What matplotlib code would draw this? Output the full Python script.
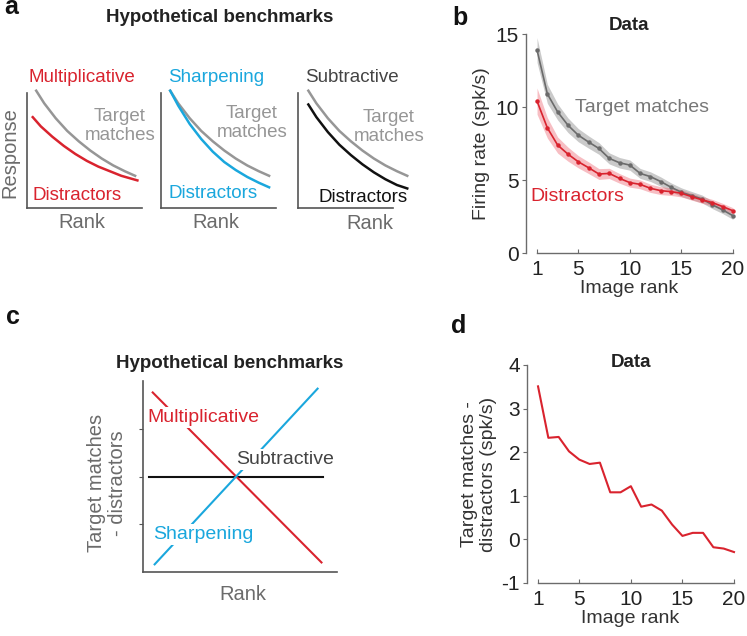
import matplotlib
matplotlib.use("Agg")
import matplotlib.pyplot as plt

plt.rcParams['font.family'] = ['Liberation Sans', 'DejaVu Sans']
plt.rcParams['font.size'] = 13.5
plt.rcParams['axes.unicode_minus'] = False

RED = '#d9232e'
BLUE = '#1aa7dd'
GRAY = '#969696'
DGRAY = '#6b6b6b'
AXC = '#555555'

# --- panel a: schematic curves (axis units 0..10)
sch_x = [0.8, 1.5, 2.5, 3.5, 4.5, 5.5, 6.5, 7.5, 8.5, 9.4]
sch_target = [10.2, 9.1, 7.8, 6.7, 5.8, 5.0, 4.3, 3.7, 3.2, 2.8]
sch_mult = [7.9, 7.1, 6.2, 5.4, 4.7, 4.1, 3.6, 3.2, 2.8, 2.4]
sch_sharp = [10.2, 8.9, 7.3, 6.0, 4.9, 4.0, 3.3, 2.7, 2.2, 1.8]
sch_subtr = [9.0, 7.9, 6.6, 5.5, 4.6, 3.8, 3.1, 2.5, 2.0, 1.7]

# --- panel b: firing rates by image rank
ranks = list(range(1, 21))
target_rate = [13.9, 10.9, 9.66, 8.75, 8.07, 7.6, 7.16, 6.48, 6.18, 6.02,
               5.45, 5.23, 4.89, 4.5, 4.16, 3.93, 3.7, 3.3, 2.95, 2.55]
target_sem = [0.85, 0.65, 0.55, 0.5, 0.45, 0.42, 0.4, 0.38, 0.36, 0.35,
              0.34, 0.33, 0.32, 0.3, 0.3, 0.28, 0.27, 0.26, 0.25, 0.25]
distr_rate = [10.4, 8.57, 7.39, 6.77, 6.25, 5.84, 5.41, 5.45, 5.11, 4.82,
              4.7, 4.43, 4.27, 4.2, 4.09, 3.86, 3.64, 3.45, 3.18, 2.89]
distr_sem = [0.9, 0.7, 0.55, 0.48, 0.42, 0.4, 0.37, 0.35, 0.33, 0.31,
             0.3, 0.28, 0.27, 0.26, 0.25, 0.24, 0.23, 0.22, 0.22, 0.21]

# --- panel c: schematic difference lines (x, y endpoints in axis units)
mult_line_x, mult_line_y = [0.5, 9.2], [9.4, 0.5]
sharp_line_x, sharp_line_y = [0.6, 9.0], [0.4, 9.6]
subtr_line_x, subtr_line_y = [0.3, 9.3], [5.0, 5.0]

# --- panel d: difference data
diff_rate = [3.51, 2.33, 2.35, 2.02, 1.83, 1.73, 1.76, 1.08, 1.08, 1.22,
             0.75, 0.8, 0.66, 0.34, 0.08, 0.15, 0.15, -0.18, -0.21, -0.29]

W, H = 747, 636
fig = plt.figure(figsize=(W / 100, H / 100), dpi=100)


def px_axes(left, top, right, bottom):
    return fig.add_axes([left / W, 1 - bottom / H, (right - left) / W, (bottom - top) / H])


def ftext(x, y, s, **kw):
    fig.text(x / W, 1 - y / H, s, **kw)


def schematic(ax, spine_right=10):
    ax.set_xlim(0, 10)
    ax.set_ylim(0, 10)
    ax.set_xticks([])
    ax.set_yticks([])
    for s in ['top', 'right']:
        ax.spines[s].set_visible(False)
    for s in ['left', 'bottom']:
        ax.spines[s].set_color(AXC)
        ax.spines[s].set_linewidth(1.2)
    ax.spines['bottom'].set_bounds(0, spine_right)
    ax.patch.set_alpha(0)


# panel a
ax1 = px_axes(27, 93, 142, 208)
schematic(ax1)
ax1.plot(sch_x, sch_target, color=GRAY, lw=1.8, clip_on=False)
ax1.plot([x - 0.3 for x in sch_x[:-1]] + [9.6], sch_mult, color=RED, lw=1.8, clip_on=False)

ax2 = px_axes(161, 93, 276, 208)
schematic(ax2)
ax2.plot(sch_x, sch_target, color=GRAY, lw=1.8, clip_on=False)
ax2.plot(sch_x, sch_sharp, color=BLUE, lw=1.8, clip_on=False)

ax3 = px_axes(298, 93, 413, 208)
schematic(ax3, spine_right=8.3)
ax3.plot([x + 0.1 for x in sch_x], sch_target, color=GRAY, lw=1.8, clip_on=False)
ax3.plot([x + 0.1 for x in sch_x], sch_subtr, color='#111111', lw=1.8, clip_on=False)

ftext(220, 17, 'Hypothetical benchmarks', ha='center', va='center', weight='bold', color='#222222')
ftext(28, 77, 'Multiplicative', color=RED, va='center')
ftext(120, 126, 'Target\nmatches', color=GRAY, ha='center', va='center', linespacing=1.12)
ftext(33, 196, 'Distractors', color=RED, va='center')
ftext(10, 153, 'Response', color=DGRAY, rotation=90, ha='center', va='center', fontsize=14.5)
ftext(82, 223, 'Rank', color=DGRAY, ha='center', va='center', fontsize=14.5)
ftext(168, 77, 'Sharpening', color=BLUE, va='center')
ftext(252, 123, 'Target\nmatches', color=GRAY, ha='center', va='center', linespacing=1.12)
ftext(168, 194, 'Distractors', color=BLUE, va='center')
ftext(216, 223, 'Rank', color=DGRAY, ha='center', va='center', fontsize=14.5)
ftext(305, 77, 'Subtractive', color='#444444', va='center')
ftext(389, 127, 'Target\nmatches', color=GRAY, ha='center', va='center', linespacing=1.12)
ftext(318, 198, 'Distractors', color='#111111', va='center')
ftext(370, 224, 'Rank', color=DGRAY, ha='center', va='center', fontsize=14.5)


def data_axes(ax, ylo, yhi, yticks):
    ax.set_xlim(-0.07, 20)
    ax.set_ylim(ylo, yhi)
    for s in ['top', 'right']:
        ax.spines[s].set_visible(False)
    for s in ['left', 'bottom']:
        ax.spines[s].set_color(DGRAY)
        ax.spines[s].set_linewidth(1.0)
    ax.spines['bottom'].set_bounds(1, 20)
    ax.spines['left'].set_bounds(ylo, yhi)
    ax.set_xticks([1, 5, 10, 15, 20])
    ax.set_yticks(yticks)
    ax.tick_params(axis='both', labelsize=15, labelcolor='#222222')
    ax.tick_params(axis='y', direction='out', length=3, color=DGRAY, pad=2)
    ax.tick_params(axis='x', direction='in', length=3, color=DGRAY, pad=5)
    ax.set_xlabel('Image rank', labelpad=1, fontsize=14, color='#333333')
    ax.patch.set_alpha(0)


# panel b
axb = px_axes(526, 34, 733, 253)
data_axes(axb, 0, 15, [0, 5, 10, 15])
lo = [m - s for m, s in zip(target_rate, target_sem)]
hi = [m + s for m, s in zip(target_rate, target_sem)]
axb.fill_between(ranks, lo, hi, color='#8a8a8a', alpha=0.45, lw=0)
lo = [m - s for m, s in zip(distr_rate, distr_sem)]
hi = [m + s for m, s in zip(distr_rate, distr_sem)]
axb.fill_between(ranks, lo, hi, color='#ee6f7b', alpha=0.45, lw=0)
axb.plot(ranks, target_rate, color=DGRAY, lw=1.2, marker='o', ms=2.2, clip_on=False)
axb.plot(ranks, distr_rate, color=RED, lw=1.2, marker='o', ms=2.2, clip_on=False)
axb.set_ylabel('Firing rate (spk/s)', labelpad=4, fontsize=14, color='#333333')
axb.text(0.5, 1.041, 'Data', transform=axb.transAxes, weight='bold',
         ha='center', va='center', color='#222222')
axb.text(11.17, 9.95, 'Target matches', color='#777777', ha='center', va='center', fontsize=14)
axb.text(4.95, 3.84, 'Distractors', color=RED, ha='center', va='center', fontsize=14)

# panel c
axc = px_axes(143, 381, 337, 572)
schematic(axc)
axc.set_yticks([2.5, 5, 7.5])
axc.tick_params(axis='y', direction='out', length=3, color=AXC, labelleft=False)
axc.plot(mult_line_x, mult_line_y, color=RED, lw=1.5)
axc.plot(sharp_line_x, sharp_line_y, color=BLUE, lw=1.5)
axc.plot(subtr_line_x, subtr_line_y, color='#111111', lw=1.5, zorder=1)
bb = dict(facecolor='white', edgecolor='none', pad=1.5)
axc.text(0.2, 8.1, 'Multiplicative', color=RED, va='center', bbox=bb, fontsize=14)
axc.text(4.8, 5.9, 'Subtractive', color='#444444', va='center', bbox=bb, fontsize=14)
axc.text(0.5, 1.95, 'Sharpening', color=BLUE, va='center', bbox=bb, fontsize=14)
ftext(230, 363, 'Hypothetical benchmarks', ha='center', va='center', weight='bold', color='#222222')
ftext(107, 483, 'Target matches\n- distractors', color=DGRAY, rotation=90, fontsize=14.5,
      ha='center', va='center', multialignment='center', linespacing=1.15)
ftext(243, 595, 'Rank', color=DGRAY, ha='center', va='center', fontsize=14.5)

# panel d
axd = px_axes(527, 365, 734, 583)
data_axes(axd, -1, 4, [-1, 0, 1, 2, 3, 4])
axd.plot(ranks, diff_rate, color=RED, lw=1.5, clip_on=False)
axd.set_ylabel('Target matches -\ndistractors (spk/s)', labelpad=3, linespacing=1.15,
               fontsize=14, color='#333333')
axd.text(0.5, 1.01, 'Data', transform=axd.transAxes, weight='bold',
         ha='center', va='center', color='#222222')

for s, x, y in [('a', 4, 14), ('b', 452, 25), ('c', 6, 324), ('d', 451, 333)]:
    ftext(x, y, s, weight='bold', fontsize=18, ha='left', va='baseline', color='#111111')

fig.savefig('out.png', dpi=100)
